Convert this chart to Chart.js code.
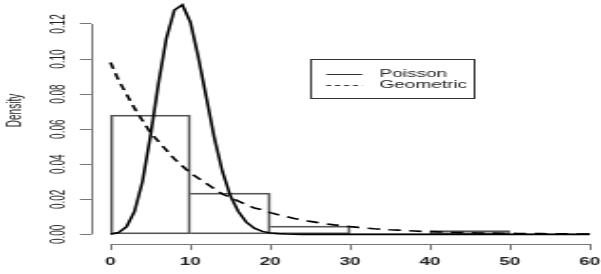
<!DOCTYPE html>
<html>
<head>
<meta charset="utf-8">
<script src="https://cdn.jsdelivr.net/npm/chart.js@4.4.0/dist/chart.umd.min.js"></script>
<style>
  html, body { margin: 0; padding: 0; background: #fff; overflow: hidden; }
  #frame { position: relative; width: 601px; height: 274px; overflow: hidden; }
  /* the reference is a horizontally stretched R plot, so draw narrow and stretch */
  #stretch { position: absolute; left: 0; top: -23px; width: 316px; height: 297px; transform: scaleX(1.902); transform-origin: 0 0; }
</style>
</head>
<body>
<div id="frame"><div id="stretch"><canvas id="chart" width="316" height="297"></canvas></div></div>
<script>
const breaks = [0, 10, 20, 30, 40, 50, 60];
const histDensity = [0.068, 0.0235, 0.0047, 0.0006, 0.0021, 0.0006];

const poisson = [
  0.0001, 0.001, 0.0043, 0.013, 0.030, 0.056, 0.086, 0.112, 0.128, 0.131,
  0.121, 0.101, 0.078, 0.055, 0.036, 0.022, 0.013, 0.007, 0.0035, 0.0017,
  0.0008, 0.0004, 0.0002, 0.0001, 0, 0, 0, 0, 0, 0,
  0, 0, 0, 0, 0, 0, 0, 0, 0, 0,
  0, 0, 0, 0, 0, 0, 0, 0, 0, 0,
  0, 0, 0, 0, 0, 0, 0, 0, 0, 0,
  0
];
const geometric = [
  0.098, 0.088, 0.080, 0.072, 0.065, 0.058, 0.053, 0.048, 0.043, 0.039,
  0.035, 0.032, 0.029, 0.026, 0.023, 0.021, 0.019, 0.017, 0.015, 0.014,
  0.0124, 0.0112, 0.0101, 0.0091, 0.0082, 0.0074, 0.0067, 0.006, 0.0054, 0.0049,
  0.0044, 0.004, 0.0036, 0.0032, 0.0029, 0.0026, 0.0024, 0.0021, 0.0019, 0.0017,
  0.0016, 0.0014, 0.0013, 0.0011, 0.001, 0.0009, 0.0008, 0.0008, 0.0007, 0.0006,
  0.0006, 0.0005, 0.0005, 0.0004, 0.0004, 0.0003, 0.0003, 0.0003, 0.0002, 0.0002,
  0.0002
];

const xTicks = [0, 10, 20, 30, 40, 50, 60];
const yTicks = [0, 0.02, 0.04, 0.06, 0.08, 0.10, 0.12];
const seriesNames = ["Poisson", "Geometric"];
const legendAt = { x: 25, y: 0.10 };

Chart.defaults.font.family = "'Liberation Sans', Arial, sans-serif";
Chart.defaults.font.size = 10;
Chart.defaults.color = "#222";

const alignPx = (chart, px) => Math.round((px - 0.5) * chart.currentDevicePixelRatio) / chart.currentDevicePixelRatio + 0.5;

// R style axes: the line only runs from first to last tick
const rAxes = {
  id: "rAxes",
  afterDraw(chart) {
    const { ctx, chartArea, scales: { x, y } } = chart;
    const bx = alignPx(chart, chartArea.bottom);
    const ly = alignPx(chart, chartArea.left);
    ctx.save();
    ctx.strokeStyle = "#777";
    ctx.lineWidth = 1;
    ctx.beginPath();
    ctx.moveTo(x.getPixelForValue(xTicks[0]), bx);
    ctx.lineTo(x.getPixelForValue(xTicks[xTicks.length - 1]), bx);
    ctx.moveTo(ly, y.getPixelForValue(yTicks[0]));
    ctx.lineTo(ly, y.getPixelForValue(yTicks[yTicks.length - 1]));
    ctx.stroke();
    ctx.restore();
  }
};

const boxLegend = {
  id: "boxLegend",
  afterDraw(chart) {
    const { ctx, scales: { x, y } } = chart;
    const left = alignPx(chart, x.getPixelForValue(legendAt.x));
    const top = alignPx(chart, y.getPixelForValue(legendAt.y));
    ctx.save();
    ctx.strokeStyle = "#333";
    ctx.lineWidth = 1;
    ctx.strokeRect(left, top, 86, 39);
    const rows = [14, 25.5];
    chart.data.datasets.slice(0, 2).forEach((ds, i) => {
      const ry = Math.round(top + rows[i]) + 0.5;
      ctx.setLineDash(ds.borderDash ? [2.6, 2.1] : []);
      ctx.strokeStyle = "#333";
      ctx.beginPath();
      ctx.moveTo(left + 8, ry);
      ctx.lineTo(left + 27, ry);
      ctx.stroke();
      ctx.setLineDash([]);
      ctx.fillStyle = "#222";
      ctx.font = "10px 'Liberation Sans', Arial, sans-serif";
      ctx.textBaseline = "middle";
      ctx.textAlign = "left";
      ctx.fillText(ds.label, left + 36, ry);
    });
    ctx.restore();
  }
};

// each shared edge is drawn once, by the taller of the two bars
const barEdges = (c) => {
  const i = c.dataIndex;
  const h = histDensity[i];
  const last = histDensity.length - 1;
  return {
    top: 1,
    bottom: 1,
    left: i === 0 || h > histDensity[i - 1] ? 1 : 0,
    right: i === last || h >= histDensity[i + 1] ? 1 : 0
  };
};

new Chart(document.getElementById("chart"), {
  type: "line",
  data: {
    datasets: [
      {
        label: seriesNames[0],
        data: poisson.map((v, i) => ({ x: i, y: v })),
        borderColor: "#000",
        borderWidth: 1.6,
        pointRadius: 0,
        tension: 0,
        fill: false
      },
      {
        label: seriesNames[1],
        data: geometric.map((v, i) => ({ x: i, y: v })),
        borderColor: "#000",
        borderWidth: 1.6,
        borderDash: [6.5, 4.5],
        pointRadius: 0,
        tension: 0,
        fill: false
      },
      {
        type: "bar",
        label: "hist",
        data: histDensity.map((v, i) => ({ x: (breaks[i] + breaks[i + 1]) / 2, y: v })),
        backgroundColor: "rgba(0,0,0,0)",
        borderColor: "#555",
        borderWidth: barEdges,
        borderSkipped: false,
        barPercentage: 1,
        categoryPercentage: 1
      }
    ]
  },
  options: {
    responsive: false,
    animation: false,
    devicePixelRatio: 1,
    layout: { padding: 0 },
    plugins: { legend: { display: false }, tooltip: { enabled: false } },
    scales: {
      x: {
        type: "linear",
        min: -2.4,
        max: 61.41,
        offset: false,
        afterBuildTicks: (s) => { s.ticks = xTicks.map((v) => ({ value: v })); },
        afterFit: (s) => { s.height = 30; s.paddingLeft = 0; s.paddingRight = 0; },
        border: { display: false },
        grid: { offset: false, drawOnChartArea: false, drawTicks: true, tickLength: 6, color: "#777" },
        ticks: { autoSkip: false, maxRotation: 0, padding: 6.5, color: "#222", font: { weight: "bold" } }
      },
      y: {
        type: "linear",
        min: -0.0055,
        max: 0.1468,
        afterBuildTicks: (s) => { s.ticks = yTicks.map((v) => ({ value: v })); },
        afterFit: (s) => { s.width = 48; s.paddingTop = 0; s.paddingBottom = 0; },
        border: { display: false },
        grid: { drawOnChartArea: false, drawTicks: true, tickLength: 6, color: "#777" },
        ticks: {
          autoSkip: false,
          minRotation: 90,
          maxRotation: 90,
          crossAlign: "center",
          padding: 1,
          color: "#222",
          callback: (v) => v.toFixed(2)
        },
        title: { display: true, text: "Density", color: "#222", padding: { top: 2.4, bottom: 0 } }
      }
    }
  },
  plugins: [rAxes, boxLegend]
});
</script>
</body>
</html>
